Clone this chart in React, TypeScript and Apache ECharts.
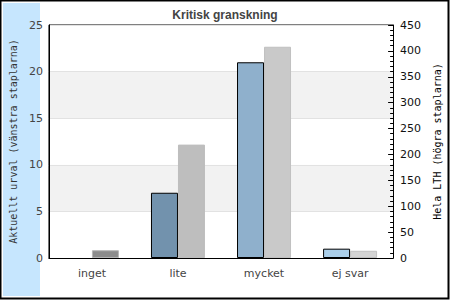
import React, { useEffect, useRef } from "react";
import * as echarts from "echarts";

const categories = ["inget", "lite", "mycket", "ej svar"];
const urvalValues = [0, 7, 21, 1];
const lthValues = [15, 219, 408, 14];
const urvalColors = ["#7292ad", "#7292ad", "#8fb0cc", "#abcfea"];
const lthColors = ["#8c8c8c", "#bebebe", "#c9c9c9", "#d4d4d4"];
const lthBorders = ["#b5b5b5", "#bebebe", "#c0c0c0", "#c0c0c0"];

export default function App() {
  const ref = useRef<HTMLDivElement>(null);
  useEffect(() => {
    const chart = echarts.init(ref.current!, null, { renderer: "svg" });
    chart.setOption({
      animation: false,
      backgroundColor: "#fff",
      graphic: [
        { type: "rect", z: -10, shape: { x: 0.5, y: 0.5, width: 448, height: 298 }, style: { fill: "#fff", stroke: "#000", lineWidth: 2 } },
        { type: "rect", z: -9, shape: { x: 3, y: 3, width: 37, height: 293 }, style: { fill: "#c6e6fe" } },
      ],
      title: {
        text: "Kritisk granskning",
        left: "center",
        top: 4,
        textStyle: { fontFamily: "Liberation Sans, Arial", fontSize: 12, fontWeight: "bold", color: "#444" },
      },
      grid: { left: 40, right: 52, top: 25, bottom: 42, show: true, borderColor: "#000", borderWidth: 1, backgroundColor: "transparent" },
      xAxis: {
        type: "category",
        data: categories,
        axisLine: { lineStyle: { color: "#000", width: 1 } },
        axisTick: { show: false },
        axisLabel: { fontFamily: "DejaVu Sans", fontSize: 11, color: "#444", margin: 10 },
      },
      yAxis: [
        {
          type: "value",
          min: 0,
          max: 25,
          interval: 5,
          position: "left",
          name: "Aktuellt urval (vänstra staplarna)",
          nameLocation: "middle",
          nameGap: 26,
          nameTextStyle: { fontFamily: "DejaVu Sans Mono", fontSize: 10, color: "#333" },
          axisLine: { show: true, lineStyle: { color: "#000" } },
          axisTick: { show: false },
          axisLabel: { fontFamily: "DejaVu Sans", fontSize: 11, color: "#444", margin: 6 },
          splitLine: { show: true, lineStyle: { color: "#e2e2e2" } },
          splitArea: { show: true, areaStyle: { color: ["#ffffff", "#f2f2f2"] } },
        },
        {
          type: "value",
          min: 0,
          max: 450,
          interval: 50,
          position: "right",
          name: "Hela LTH (högra staplarna)",
          nameLocation: "middle",
          nameGap: 34,
          nameTextStyle: { fontFamily: "DejaVu Sans Mono", fontSize: 10, color: "#000" },
          axisLine: { show: true, lineStyle: { color: "#000" } },
          axisTick: { show: true, inside: true, length: 5, lineStyle: { color: "#000" } },
          minorTick: { show: true, splitNumber: 5, length: 3, lineStyle: { color: "#000" } },
          axisLabel: { fontFamily: "DejaVu Sans", fontSize: 11, color: "#111", margin: 7 },
          splitLine: { show: false },
        },
      ],
      series: [
        {
          type: "bar",
          yAxisIndex: 0,
          barWidth: 27,
          barGap: "0%",
          data: urvalValues.map((v, i) => ({
            value: v,
            itemStyle: { color: urvalColors[i], borderColor: v > 0 ? "#000" : "transparent", borderWidth: 1 },
          })),
        },
        {
          type: "bar",
          yAxisIndex: 1,
          barWidth: 27,
          barGap: "0%",
          data: lthValues.map((v, i) => ({
            value: v,
            itemStyle: { color: lthColors[i], borderColor: lthBorders[i], borderWidth: 1 },
          })),
        },
      ],
    });
    return () => chart.dispose();
  }, []);
  return <div ref={ref} style={{ width: 450, height: 300, position: "absolute", left: 0, top: 0 }} />;
}
